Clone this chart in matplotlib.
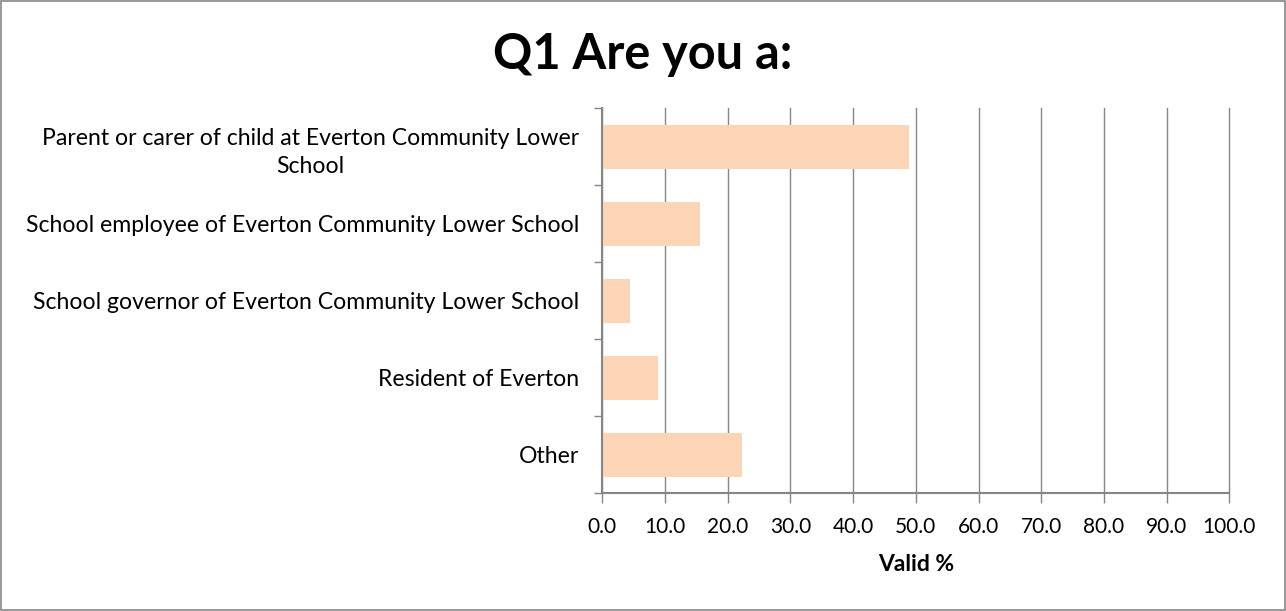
import matplotlib
matplotlib.use("Agg")
import matplotlib.pyplot as plt
from matplotlib.patches import Rectangle

categories = [
    "Parent or carer of child at Everton Community Lower\nSchool",
    "School employee of Everton Community Lower School",
    "School governor of Everton Community Lower School",
    "Resident of Everton",
    "Other",
]
valid_pct = [48.9, 15.6, 4.4, 8.9, 22.3]
xticks = [0, 10, 20, 30, 40, 50, 60, 70, 80, 90, 100]

plt.rcParams['font.family'] = ['Lato', 'DejaVu Sans']
grey = "#868686"

fig = plt.figure(figsize=(12.86, 6.11), dpi=100)
ax = fig.add_axes([0.4684, 0.1926, 0.4876, 0.6301])

y = list(range(len(categories)))
ax.barh(y, valid_pct, height=0.57, color="#FBD5B5", zorder=2)
ax.set_ylim(len(categories) - 0.5, -0.5)
ax.set_xlim(0, 100)

ax.set_xticks(xticks)
ax.set_xticklabels(["%.1f" % v for v in xticks], fontsize=15)
ax.set_yticks(y)
ax.set_yticklabels(categories, fontsize=16.6, ha="right", multialignment="center",
                   linespacing=1.4)
ax.tick_params(axis="y", length=0, pad=17)

# category boundary ticks on the y axis
ax.set_yticks([i - 0.5 for i in range(len(categories) + 1)], minor=True)
ax.tick_params(axis="y", which="minor", length=6, color=grey, width=1)
ax.tick_params(axis="x", length=7, color=grey, width=1, pad=10)

ax.grid(axis="x", color=grey, linewidth=1, zorder=0)
ax.set_axisbelow(True)
for line in ax.get_xgridlines():
    line.set_clip_on(False)
for s in ["top", "right"]:
    ax.spines[s].set_visible(False)
for s in ["left", "bottom"]:
    ax.spines[s].set_color(grey)
    ax.spines[s].set_linewidth(1.5)

ax.set_xlabel("Valid %", fontsize=16.5, fontweight="bold", labelpad=12)
fig.text(0.5, 0.91, "Q1 Are you a:", fontsize=35, fontweight="bold", ha="center", va="center")

fig.patches.append(Rectangle((0.001, 0.002), 0.998, 0.996, transform=fig.transFigure,
                             fill=False, edgecolor=grey, linewidth=1.2))

fig.savefig("out.png", dpi=100)
